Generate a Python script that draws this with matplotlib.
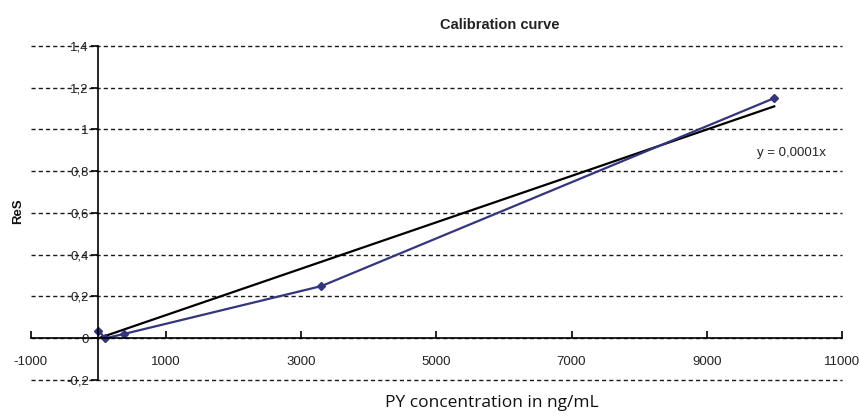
import numpy as np
import matplotlib
matplotlib.use("Agg")
from matplotlib import pyplot as plt

# data
conc = [0, 100, 370, 3300, 10000]
res = [0.035, 0.0, 0.02, 0.25, 1.15]
x_ticks = [-1000, 1000, 3000, 5000, 7000, 9000, 11000]
y_ticks = [-0.2, 0, 0.2, 0.4, 0.6, 0.8, 1.0, 1.2, 1.4]
y_labels = ["-0,2", "0", "0,2", "0,4", "0,6", "0,8", "1", "1,2", "1,4"]

plt.rcParams['font.family'] = ['Liberation Sans', 'DejaVu Sans']

# linear trendline forced through the origin
x = np.array(conc, dtype=float)
y = np.array(res, dtype=float)
slope = (x * y).sum() / (x * x).sum()
fit_x = np.array([0, max(conc)])

fig = plt.figure(figsize=(8.59, 4.15), dpi=100)
ax = fig.add_axes([0.036, 0.0843, 0.944, 0.805])

ax.set_xlim(-1000, 11000)
ax.set_ylim(-0.2, 1.4)

# dashed horizontal gridlines
for t in y_ticks:
    ax.axhline(t, color='#1a1a1a', lw=1.0, ls=(0, (3, 2.2)), zorder=1,
               clip_on=False)

ax.plot(conc, res, color='#35357f', lw=1.6, marker='D', ms=4.5, zorder=3)
ax.plot(fit_x, slope * fit_x, color='black', lw=1.6, zorder=2)

# axes crossing at the origin
for s in ['top', 'right']:
    ax.spines[s].set_visible(False)
ax.spines['left'].set_position(('data', 0))
ax.spines['bottom'].set_position(('data', 0))
ax.spines['left'].set_linewidth(1.2)
ax.spines['bottom'].set_linewidth(1.2)
ax.spines['left'].set_zorder(4)
ax.spines['bottom'].set_zorder(4)

ax.set_xticks(x_ticks)
ax.set_xticklabels([str(v) for v in x_ticks], fontsize=9.5, color='#222222')
ax.tick_params(axis='x', direction='in', length=5, width=1.2, pad=13)
ax.set_yticks(y_ticks)
ax.set_yticklabels(y_labels, fontsize=9.5, color='#222222')
ax.tick_params(axis='y', direction='out', length=5, width=1.2, pad=2)

ax.text(9750, 0.885, "y = 0,0001x", fontsize=9.5, color='#222222',
        ha='left', va='center')

fig.text(0.582, 0.94, "Calibration curve", fontsize=10.5, fontweight='bold',
         ha='center', va='center', color='#222222')
fig.text(0.573, 0.03, "PY concentration in ng/mL", fontsize=12.5,
         family=['Open Sans', 'DejaVu Sans'], ha='center', va='center',
         color='#111111')
fig.text(0.021, 0.49, "ReS", fontsize=9.5, fontweight='bold', rotation=90,
         ha='center', va='center', color='#111111')

fig.savefig("out.png", dpi=100)
